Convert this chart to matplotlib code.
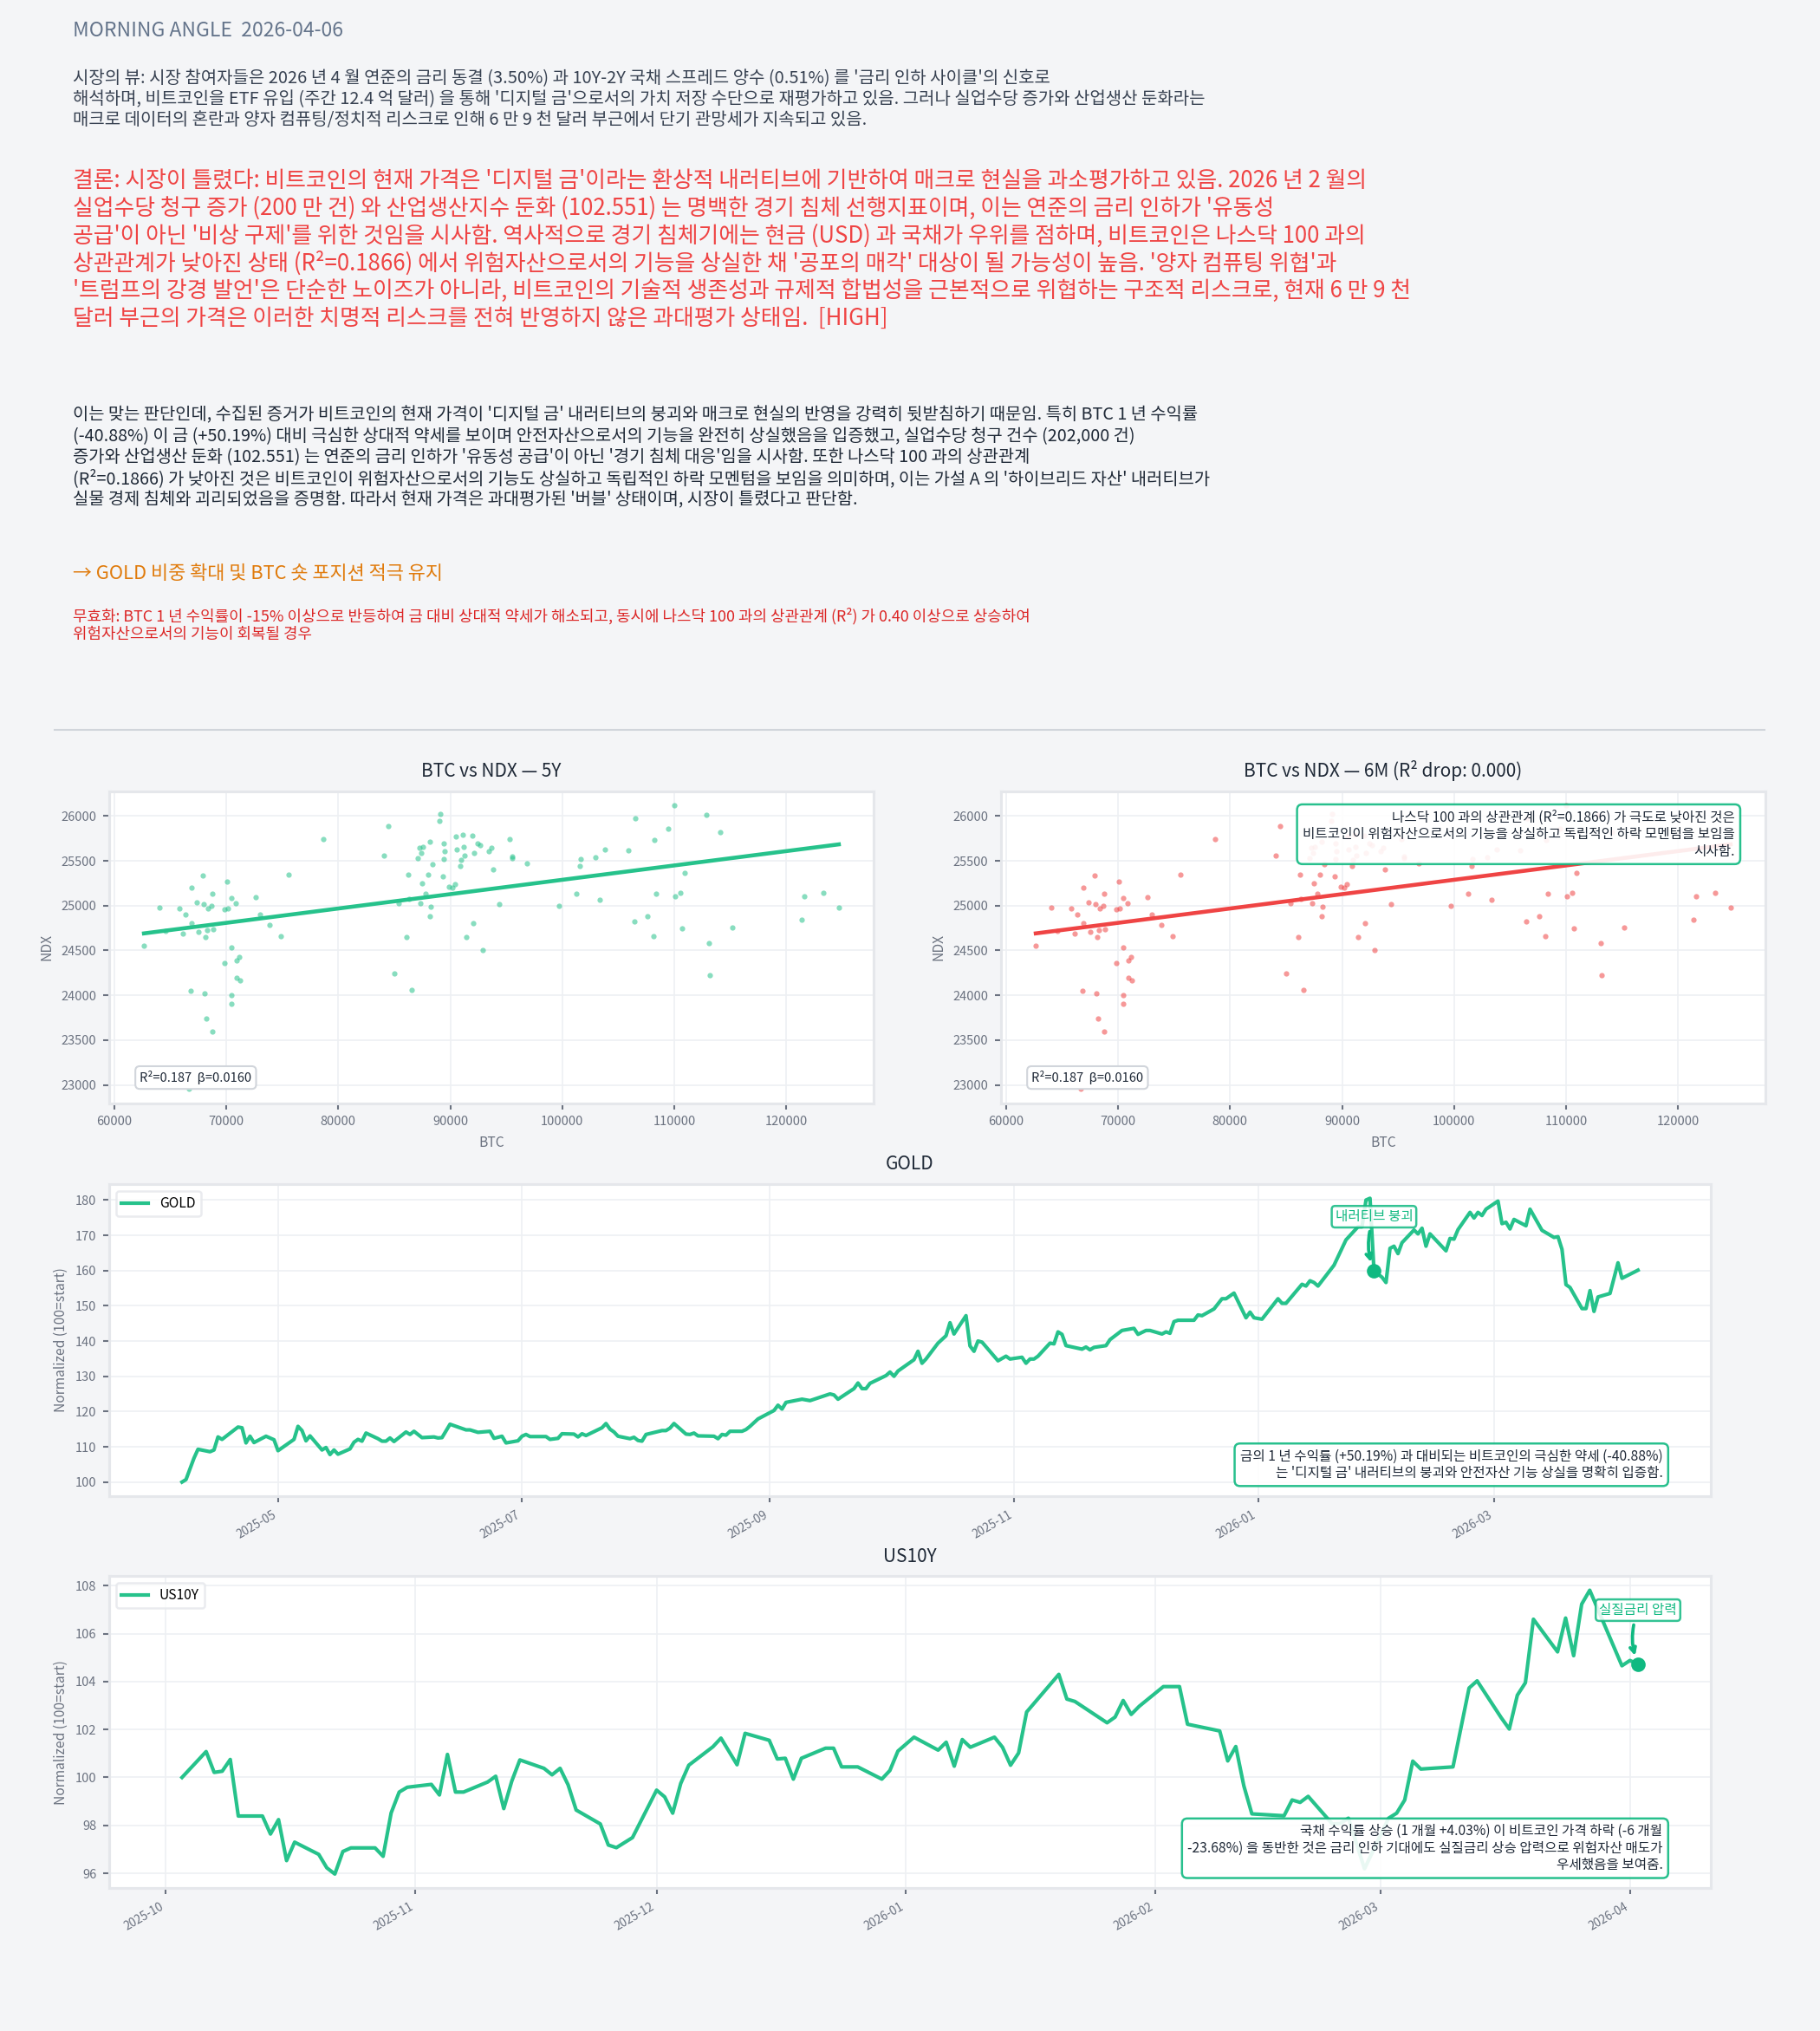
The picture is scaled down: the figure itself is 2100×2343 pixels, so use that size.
import numpy as np
import pandas as pd
import matplotlib
matplotlib.use('Agg')
import matplotlib.pyplot as plt
import matplotlib.dates as mdates
from matplotlib.lines import Line2D

plt.rcParams['font.family'] = ['Noto Sans CJK KR', 'DejaVu Sans']

# 색상
BG = '#f4f5f7'
GREEN = '#26c28b'
DOT = '#10b981'
RED = '#ef4444'
GRAY = '#6b7280'

# 헤더 텍스트
header = "MORNING ANGLE  2026-04-06"
view_text = ("시장의 뷰: 시장 참여자들은 2026 년 4 월 연준의 금리 동결 (3.50%) 과 10Y-2Y 국채 스프레드 양수 (0.51%) 를 '금리 인하 사이클'의 신호로\n"
             "해석하며, 비트코인을 ETF 유입 (주간 12.4 억 달러) 을 통해 '디지털 금'으로서의 가치 저장 수단으로 재평가하고 있음. 그러나 실업수당 증가와 산업생산 둔화라는\n"
             "매크로 데이터의 혼란과 양자 컴퓨팅/정치적 리스크로 인해 6 만 9 천 달러 부근에서 단기 관망세가 지속되고 있음.")
conclusion = ("결론: 시장이 틀렸다: 비트코인의 현재 가격은 '디지털 금'이라는 환상적 내러티브에 기반하여 매크로 현실을 과소평가하고 있음. 2026 년 2 월의\n"
              "실업수당 청구 증가 (200 만 건) 와 산업생산지수 둔화 (102.551) 는 명백한 경기 침체 선행지표이며, 이는 연준의 금리 인하가 '유동성\n"
              "공급'이 아닌 '비상 구제'를 위한 것임을 시사함. 역사적으로 경기 침체기에는 현금 (USD) 과 국채가 우위를 점하며, 비트코인은 나스닥 100 과의\n"
              "상관관계가 낮아진 상태 (R²=0.1866) 에서 위험자산으로서의 기능을 상실한 채 '공포의 매각' 대상이 될 가능성이 높음. '양자 컴퓨팅 위협'과\n"
              "'트럼프의 강경 발언'은 단순한 노이즈가 아니라, 비트코인의 기술적 생존성과 규제적 합법성을 근본적으로 위협하는 구조적 리스크로, 현재 6 만 9 천\n"
              "달러 부근의 가격은 이러한 치명적 리스크를 전혀 반영하지 않은 과대평가 상태임.  [HIGH]")
reason = ("이는 맞는 판단인데, 수집된 증거가 비트코인의 현재 가격이 '디지털 금' 내러티브의 붕괴와 매크로 현실의 반영을 강력히 뒷받침하기 때문임. 특히 BTC 1 년 수익률\n"
          "(-40.88%) 이 금 (+50.19%) 대비 극심한 상대적 약세를 보이며 안전자산으로서의 기능을 완전히 상실했음을 입증했고, 실업수당 청구 건수 (202,000 건)\n"
          "증가와 산업생산 둔화 (102.551) 는 연준의 금리 인하가 '유동성 공급'이 아닌 '경기 침체 대응'임을 시사함. 또한 나스닥 100 과의 상관관계\n"
          "(R²=0.1866) 가 낮아진 것은 비트코인이 위험자산으로서의 기능도 상실하고 독립적인 하락 모멘텀을 보임을 의미하며, 이는 가설 A 의 '하이브리드 자산' 내러티브가\n"
          "실물 경제 침체와 괴리되었음을 증명함. 따라서 현재 가격은 과대평가된 '버블' 상태이며, 시장이 틀렸다고 판단함.")
action = "→ GOLD 비중 확대 및 BTC 숏 포지션 적극 유지"
invalid = ("무효화: BTC 1 년 수익률이 -15% 이상으로 반등하여 금 대비 상대적 약세가 해소되고, 동시에 나스닥 100 과의 상관관계 (R²) 가 0.40 이상으로 상승하여\n"
           "위험자산으로서의 기능이 회복될 경우")

# BTC vs NDX 산점도
btc = [62650, 64030, 64550, 65830, 66350, 66160, 66920, 66920, 66820, 66630,
       67390, 67490, 67870, 67960, 68060, 68100, 68200, 68290, 68390, 68670,
       68720, 68720, 68810, 69860, 69860, 70050, 70140, 70470, 70470, 70470,
       70470, 70810, 70900, 70900, 71180, 71230, 72650, 72990, 73840, 74830,
       75590, 78630, 84080, 84500, 85020, 85400, 86110, 86260, 86350, 86590,
       87110, 87250, 87300, 87390, 87490, 87580, 87820, 88060, 88200, 88250,
       88200, 88390, 89050, 89100, 89340, 89380, 89430, 89480, 89910, 90190,
       90430, 90470, 90570, 90850, 90990, 91090, 91230, 91280, 91420, 91940,
       92040, 92090, 92460, 92650, 92890, 93460, 93650, 93790, 94360, 95260,
       95500, 95500, 96870, 99670, 101230, 101560, 101610, 102940, 103320, 103840,
       105920, 106450, 106490, 107630, 108150, 108250, 108390, 109480, 110000, 110050,
       110570, 110710, 110950, 112890, 113080, 113180, 114080, 115210, 121370, 121610,
       123270, 124690]
ndx = [24552, 24981, 24713, 24965, 24900, 24690, 25203, 24800, 24048, 22955,
       25035, 24703, 25332, 25016, 24026, 24648, 23745, 24726, 24968, 24997,
       25129, 23593, 24735, 24961, 24358, 25271, 24968, 25081, 24535, 24006,
       23903, 25023, 24384, 24193, 24429, 24168, 25097, 24897, 24784, 24658,
       25342, 25739, 25555, 25884, 24245, 25023, 24652, 25345, 25071, 24058,
       25529, 25645, 25023, 25587, 25252, 25658, 25135, 25348, 25713, 24990,
       24877, 25464, 25942, 26026, 25326, 25697, 25523, 25610, 25210, 25200,
       25239, 25771, 25629, 25439, 25513, 25790, 25658, 25558, 24645, 25781,
       24803, 25584, 25690, 25671, 24506, 25610, 25642, 25403, 25013, 25742,
       25552, 25532, 25468, 24997, 25132, 25439, 25519, 25535, 25061, 25623,
       25613, 24819, 25974, 24881, 24661, 25735, 25129, 25858, 26119, 25100,
       25142, 24748, 25361, 26013, 24581, 24226, 25823, 24752, 24842, 25100,
       25139, 24981]
# 회귀선 (차트 라벨의 β 값)
fit_beta = 0.0160
fit_alpha = 23688

# GOLD (정규화, 시작=100)
gold_dates = [
    "2025-04-07", "2025-04-08", "2025-04-10", "2025-04-11", "2025-04-14", "2025-04-15", "2025-04-16", "2025-04-17",
    "2025-04-21", "2025-04-22", "2025-04-23", "2025-04-24", "2025-04-25", "2025-04-28", "2025-04-30",
    "2025-05-01", "2025-05-05", "2025-05-06", "2025-05-07", "2025-05-08", "2025-05-09", "2025-05-12", "2025-05-13",
    "2025-05-14", "2025-05-15", "2025-05-16", "2025-05-19", "2025-05-20", "2025-05-21", "2025-05-22", "2025-05-23",
    "2025-05-26", "2025-05-27", "2025-05-28", "2025-05-29", "2025-05-30",
    "2025-06-02", "2025-06-03", "2025-06-04", "2025-06-06", "2025-06-09", "2025-06-10", "2025-06-11", "2025-06-13",
    "2025-06-17", "2025-06-18", "2025-06-20", "2025-06-23", "2025-06-24", "2025-06-26", "2025-06-27", "2025-06-30",
    "2025-07-01", "2025-07-02", "2025-07-03", "2025-07-07", "2025-07-08", "2025-07-10", "2025-07-11", "2025-07-14",
    "2025-07-15", "2025-07-16", "2025-07-17", "2025-07-21", "2025-07-22", "2025-07-23", "2025-07-24", "2025-07-25",
    "2025-07-28", "2025-07-29", "2025-07-30", "2025-07-31",
    "2025-08-01", "2025-08-05", "2025-08-06", "2025-08-07", "2025-08-08", "2025-08-11", "2025-08-12", "2025-08-13",
    "2025-08-14", "2025-08-18", "2025-08-19", "2025-08-20", "2025-08-21", "2025-08-22", "2025-08-25", "2025-08-26",
    "2025-08-27", "2025-08-29",
    "2025-09-02", "2025-09-03", "2025-09-04", "2025-09-05", "2025-09-09", "2025-09-11", "2025-09-15", "2025-09-16",
    "2025-09-17", "2025-09-18", "2025-09-22", "2025-09-23", "2025-09-24", "2025-09-25", "2025-09-26", "2025-09-30",
    "2025-10-01", "2025-10-02", "2025-10-03", "2025-10-07", "2025-10-08", "2025-10-09", "2025-10-10", "2025-10-13",
    "2025-10-15", "2025-10-16", "2025-10-17", "2025-10-20", "2025-10-21", "2025-10-22", "2025-10-23", "2025-10-24",
    "2025-10-28", "2025-10-30", "2025-10-31",
    "2025-11-03", "2025-11-04", "2025-11-05", "2025-11-06", "2025-11-07", "2025-11-10", "2025-11-11", "2025-11-12",
    "2025-11-13", "2025-11-14", "2025-11-18", "2025-11-19", "2025-11-20", "2025-11-21", "2025-11-24", "2025-11-25",
    "2025-11-28",
    "2025-12-01", "2025-12-02", "2025-12-04", "2025-12-05", "2025-12-08", "2025-12-09", "2025-12-10", "2025-12-11",
    "2025-12-12", "2025-12-16", "2025-12-17", "2025-12-18", "2025-12-21", "2025-12-23", "2025-12-24", "2025-12-26",
    "2025-12-29", "2025-12-30", "2025-12-31",
    "2026-01-02", "2026-01-06", "2026-01-07", "2026-01-08", "2026-01-12", "2026-01-13", "2026-01-14", "2026-01-15",
    "2026-01-16", "2026-01-20", "2026-01-23", "2026-01-26", "2026-01-27", "2026-01-28", "2026-01-29", "2026-01-30",
    "2026-02-01", "2026-02-02", "2026-02-03", "2026-02-04", "2026-02-05", "2026-02-06", "2026-02-09", "2026-02-10",
    "2026-02-11", "2026-02-12", "2026-02-13", "2026-02-17", "2026-02-18", "2026-02-19", "2026-02-20", "2026-02-23",
    "2026-02-24", "2026-02-25", "2026-02-26", "2026-02-27",
    "2026-03-02", "2026-03-03", "2026-03-04", "2026-03-05", "2026-03-06", "2026-03-09", "2026-03-10", "2026-03-13",
    "2026-03-16", "2026-03-17", "2026-03-18", "2026-03-19", "2026-03-20", "2026-03-23", "2026-03-24", "2026-03-25",
    "2026-03-26", "2026-03-27", "2026-03-30",
    "2026-04-01", "2026-04-02", "2026-04-06"]
gold_vals = [
    100.0, 100.7, 106.8, 109.3, 108.6, 109.1, 112.8, 112.1,
    115.6, 115.4, 111.1, 113.0, 111.2, 113.0, 112.0,
    108.9, 112.1, 115.8, 114.6, 111.7, 113.1, 109.1, 109.8,
    107.8, 109.1, 107.9, 109.4, 111.3, 112.1, 111.6, 113.9,
    112.3, 111.6, 111.6, 112.5, 111.5,
    114.2, 113.5, 114.4, 112.6, 112.8, 112.5, 112.6, 116.4,
    114.8, 114.8, 114.1, 114.4, 112.4, 113.0, 111.1, 111.7,
    113.0, 113.5, 112.9, 112.9, 112.1, 112.4, 113.7, 113.6,
    112.8, 113.7, 113.2, 115.4, 116.6, 115.0, 114.2, 113.0,
    112.3, 112.7, 111.8, 111.6,
    113.5, 114.6, 114.6, 115.3, 116.6, 113.6, 113.5, 113.9,
    113.1, 113.0, 112.3, 113.5, 113.3, 114.4, 114.4, 114.9,
    115.8, 117.9,
    120.3, 121.8, 120.7, 122.6, 123.5, 123.1, 124.6, 125.0,
    124.7, 123.5, 126.5, 128.1, 126.5, 126.5, 128.0, 130.2,
    131.2, 130.0, 131.5, 134.7, 137.1, 133.7, 134.9, 139.4,
    141.5, 145.2, 142.0, 147.2, 138.6, 137.1, 140.0, 139.7,
    134.4, 135.7, 134.9,
    135.4, 133.7, 134.9, 134.9, 135.7, 139.4, 139.2, 142.6,
    141.9, 138.7, 137.7, 138.3, 137.5, 138.2, 138.7, 140.4,
    143.0,
    143.6, 141.9, 143.0, 143.0, 142.0, 142.6, 142.2, 145.5,
    145.9, 145.9, 147.4, 147.2, 149.1, 152.0, 152.0, 153.6,
    146.6, 148.2, 146.6,
    146.2, 152.0, 150.7, 150.7, 156.1, 155.6, 157.1, 156.6,
    155.6, 161.5, 168.7, 172.4, 172.4, 180.0, 180.5, 159.9,
    158.1, 156.6, 166.3, 166.9, 164.8, 167.9, 171.5, 170.4,
    172.0, 166.9, 170.4, 165.6, 169.1, 168.9, 171.6, 176.5,
    174.9, 176.5, 175.6, 177.4,
    179.7, 173.3, 173.7, 171.8, 174.5, 172.7, 177.4, 171.4,
    169.4, 169.6, 166.0, 156.0, 155.2, 149.2, 149.2, 154.3,
    148.4, 152.5, 153.5,
    162.2, 157.8, 160.1]

# US10Y (정규화, 시작=100)
us_dates = [
    "2025-10-03", "2025-10-06", "2025-10-07", "2025-10-08", "2025-10-09", "2025-10-10", "2025-10-13", "2025-10-14",
    "2025-10-15", "2025-10-16", "2025-10-17", "2025-10-20", "2025-10-21", "2025-10-22", "2025-10-23", "2025-10-24",
    "2025-10-27", "2025-10-28", "2025-10-29", "2025-10-30", "2025-10-31",
    "2025-11-03", "2025-11-04", "2025-11-05", "2025-11-06", "2025-11-07", "2025-11-10", "2025-11-11", "2025-11-12",
    "2025-11-13", "2025-11-14", "2025-11-17", "2025-11-18", "2025-11-19", "2025-11-20", "2025-11-21", "2025-11-24",
    "2025-11-25", "2025-11-26", "2025-11-28",
    "2025-12-01", "2025-12-02", "2025-12-03", "2025-12-04", "2025-12-05", "2025-12-08", "2025-12-09", "2025-12-11",
    "2025-12-12", "2025-12-15", "2025-12-16", "2025-12-17", "2025-12-18", "2025-12-19", "2025-12-22", "2025-12-23",
    "2025-12-24", "2025-12-26", "2025-12-29", "2025-12-30", "2025-12-31",
    "2026-01-02", "2026-01-05", "2026-01-06", "2026-01-07", "2026-01-08", "2026-01-09", "2026-01-12", "2026-01-13",
    "2026-01-14", "2026-01-15", "2026-01-16", "2026-01-20", "2026-01-21", "2026-01-22", "2026-01-26", "2026-01-27",
    "2026-01-28", "2026-01-29", "2026-01-30",
    "2026-02-02", "2026-02-04", "2026-02-05", "2026-02-09", "2026-02-10", "2026-02-11", "2026-02-12", "2026-02-13",
    "2026-02-17", "2026-02-18", "2026-02-19", "2026-02-20", "2026-02-23", "2026-02-24", "2026-02-25", "2026-02-27",
    "2026-03-02", "2026-03-03", "2026-03-04", "2026-03-05", "2026-03-06", "2026-03-10", "2026-03-12", "2026-03-13",
    "2026-03-16", "2026-03-17", "2026-03-18", "2026-03-19", "2026-03-20", "2026-03-23", "2026-03-24", "2026-03-25",
    "2026-03-26", "2026-03-27", "2026-03-31",
    "2026-04-01", "2026-04-02"]
us_vals = [
    100.00, 101.08, 100.21, 100.26, 100.75, 98.39, 98.39, 97.64,
    98.24, 96.53, 97.30, 96.79, 96.23, 95.97, 96.91, 97.06,
    97.06, 96.71, 98.52, 99.39, 99.59,
    99.71, 99.27, 100.96, 99.39, 99.39, 99.81, 100.05, 98.70,
    99.85, 100.73, 100.38, 100.11, 100.38, 99.69, 98.64, 98.06,
    97.18, 97.07, 97.49,
    99.47, 99.19, 98.51, 99.75, 100.51, 101.28, 101.64, 100.53,
    101.84, 101.55, 100.77, 100.80, 99.93, 100.80, 101.22, 101.22,
    100.44, 100.44, 99.93, 100.29, 101.10,
    101.68, 101.14, 101.47, 100.47, 101.58, 101.26, 101.68, 101.26,
    100.51, 101.02, 102.73, 104.30, 103.27, 103.17, 102.28, 102.52,
    103.21, 102.63, 102.97,
    103.79, 103.79, 102.22, 101.94, 100.69, 101.29, 99.65, 98.48,
    98.40, 99.06, 98.96, 99.21, 98.06, 98.08, 98.30, 96.19,
    98.30, 98.51, 99.06, 100.68, 100.35, 100.44, 103.73, 104.03,
    102.49, 102.02, 103.43, 103.95, 106.60, 105.24, 106.65, 105.08,
    107.23, 107.81, 104.66,
    104.88, 104.72]

gold_mark = "2026-01-30"
us_mark = "2026-04-02"

scatter_note = ("나스닥 100 과의 상관관계 (R²=0.1866) 가 극도로 낮아진 것은\n"
                "비트코인이 위험자산으로서의 기능을 상실하고 독립적인 하락 모멘텀을 보임을\n"
                "시사함.")
gold_note = ("금의 1 년 수익률 (+50.19%) 과 대비되는 비트코인의 극심한 약세 (-40.88%)\n"
             "는 '디지털 금' 내러티브의 붕괴와 안전자산 기능 상실을 명확히 입증함.")
us_note = ("국채 수익률 상승 (1 개월 +4.03%) 이 비트코인 가격 하락 (-6 개월\n"
           "-23.68%) 을 동반한 것은 금리 인하 기대에도 실질금리 상승 압력으로 위험자산 매도가\n"
           "우세했음을 보여줌.")
fit_label = "R²=0.187  β=0.0160"


def style_ax(ax):
    ax.set_facecolor('white')
    for s in ax.spines.values():
        s.set_color('#e5e7eb')
        s.set_linewidth(1.5)
    ax.grid(True, color='#eef0f3', lw=0.8)
    ax.set_axisbelow(True)
    ax.tick_params(colors=GRAY, labelsize=7, length=3.5, width=1)


fig = plt.figure(figsize=(14, 15.62), dpi=150, facecolor=BG)

# 텍스트 블록
fig.text(0.04, 0.9897, header, fontsize=11, color='#64748b', va='top')
fig.text(0.04, 0.9659, view_text, fontsize=9.6, color='#374151', va='top')
fig.text(0.04, 0.9167, conclusion, fontsize=12.4, color=RED, va='top')
fig.text(0.04, 0.8000, reason, fontsize=9.5, color='#1f2937', va='top')
fig.text(0.04, 0.7174, action, fontsize=10.5, color='#e07b0c', va='center')
fig.text(0.04, 0.7009, invalid, fontsize=8.6, color='#dc2626', va='top')
fig.add_artist(Line2D([0.03, 0.9695], [0.6408, 0.6408], transform=fig.transFigure,
                      color='#d1d5db', lw=1))

# 산점도 2개
btc_a = np.array(btc, dtype=float)
ndx_a = np.array(ndx, dtype=float)
xs = np.array([btc_a.min(), btc_a.max()])

for left, title, pc in [(0.06, "BTC vs NDX — 5Y", GREEN),
                        (0.55, "BTC vs NDX — 6M (R² drop: 0.000)", RED)]:
    ax = fig.add_axes([left, 0.4568, 0.42, 0.1537])
    style_ax(ax)
    ax.scatter(btc_a, ndx_a, s=9, color=pc, alpha=0.55, lw=0)
    ax.plot(xs, fit_alpha + fit_beta * xs, color=pc, lw=2.2)
    ax.set_title(title, fontsize=10, color='#1f2937', pad=8)
    ax.set_xlabel("BTC", fontsize=7.5, color=GRAY)
    ax.set_ylabel("NDX", fontsize=7.5, color=GRAY)
    ax.text(0.04, 0.06, fit_label, transform=ax.transAxes, fontsize=7, color='#1f2937',
            va='bottom', ha='left',
            bbox=dict(boxstyle='round,pad=0.35', fc='white', ec='#d1d5db', lw=1))
    if left > 0.5:
        ax.text(0.96, 0.94, scatter_note, transform=ax.transAxes, fontsize=7.5,
                color='#1f2937', ha='right', va='top', multialignment='right',
                bbox=dict(boxstyle='round,pad=0.4', fc='white', ec=DOT, lw=1.2, alpha=0.9))


def line_panel(bottom, name, dates, vals, mark, label, note, locator):
    ax = fig.add_axes([0.06, bottom, 0.88, 0.1537])
    style_ax(ax)
    d = pd.to_datetime(dates)
    ax.plot(d, vals, color=GREEN, lw=2, label=name)
    ax.set_title(name, fontsize=10, color='#1f2937', pad=8)
    ax.set_ylabel("Normalized (100=start)", fontsize=7.5, color=GRAY)
    ax.xaxis.set_major_locator(locator)
    ax.xaxis.set_major_formatter(mdates.DateFormatter('%Y-%m'))
    for lbl in ax.get_xticklabels():
        lbl.set_rotation(30)
        lbl.set_ha('right')
        lbl.set_fontsize(6.5)
    leg = ax.legend(loc='upper left', fontsize=7.5, frameon=True, fancybox=True)
    leg.get_frame().set_edgecolor('#e5e7eb')
    leg.get_frame().set_linewidth(1.2)
    mv = vals[dates.index(mark)]
    md = pd.Timestamp(mark)
    ax.plot([md], [mv], 'o', color=DOT, ms=7, zorder=5)
    ax.annotate(label, xy=(md, mv), xytext=(0, 30), textcoords='offset points',
                ha='center', va='center', fontsize=7.5, color=DOT,
                bbox=dict(boxstyle='round,pad=0.25', fc='white', ec=DOT, lw=1.2, alpha=0.85),
                arrowprops=dict(arrowstyle='->', color=DOT, lw=1.8, shrinkB=5,
                                connectionstyle='arc3,rad=0.2'))
    ax.text(0.97, 0.05, note, transform=ax.transAxes, fontsize=7.5, color='#1f2937',
            ha='right', va='bottom', multialignment='right',
            bbox=dict(boxstyle='round,pad=0.4', fc='white', ec=DOT, lw=1.2, alpha=0.9))
    return ax


line_panel(0.2633, "GOLD", gold_dates, gold_vals, gold_mark, "내러티브 붕괴", gold_note,
           mdates.MonthLocator(bymonth=[1, 3, 5, 7, 9, 11]))
line_panel(0.0703, "US10Y", us_dates, us_vals, us_mark, "실질금리 압력", us_note,
           mdates.MonthLocator())

fig.savefig("out.png", dpi=150, facecolor=BG)
